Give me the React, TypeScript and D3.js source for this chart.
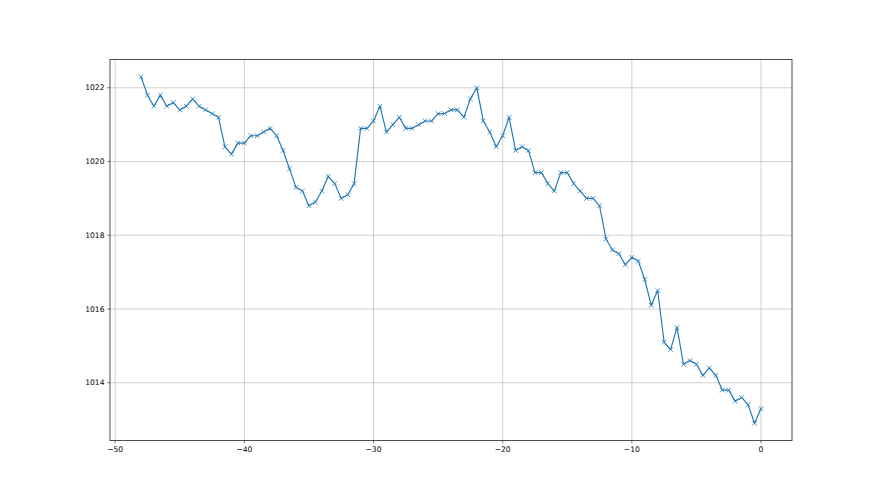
import React from "react";
import * as d3 from "d3";

const hours: number[] = [
  -48, -47.5, -47, -46.5, -46, -45.5, -45, -44.5, -44, -43.5, -43, -42.5, -42, -41.5, -41, -40.5,
  -40, -39.5, -39, -38.5, -38, -37.5, -37, -36.5, -36, -35.5, -35, -34.5, -34, -33.5, -33, -32.5,
  -32, -31.5, -31, -30.5, -30, -29.5, -29, -28.5, -28, -27.5, -27, -26.5, -26, -25.5, -25, -24.5,
  -24, -23.5, -23, -22.5, -22, -21.5, -21, -20.5, -20, -19.5, -19, -18.5, -18, -17.5, -17, -16.5,
  -16, -15.5, -15, -14.5, -14, -13.5, -13, -12.5, -12, -11.5, -11, -10.5, -10, -9.5, -9, -8.5,
  -8, -7.5, -7, -6.5, -6, -5.5, -5, -4.5, -4, -3.5, -3, -2.5, -2, -1.5, -1, -0.5, 0,
];

const pressure: number[] = [
  1022.3, 1021.8, 1021.5, 1021.8, 1021.5, 1021.6, 1021.4, 1021.5, 1021.7, 1021.5, 1021.4, 1021.3,
  1021.2, 1020.4, 1020.2, 1020.5, 1020.5, 1020.7, 1020.7, 1020.8, 1020.9, 1020.7, 1020.3, 1019.8,
  1019.3, 1019.2, 1018.8, 1018.9, 1019.2, 1019.6, 1019.4, 1019.0, 1019.1, 1019.4, 1020.9, 1020.9,
  1021.1, 1021.5, 1020.8, 1021.0, 1021.2, 1020.9, 1020.9, 1021.0, 1021.1, 1021.1, 1021.3, 1021.3,
  1021.4, 1021.4, 1021.2, 1021.7, 1022.0, 1021.1, 1020.8, 1020.4, 1020.7, 1021.2, 1020.3, 1020.4,
  1020.3, 1019.7, 1019.7, 1019.4, 1019.2, 1019.7, 1019.7, 1019.4, 1019.2, 1019.0, 1019.0, 1018.8,
  1017.9, 1017.6, 1017.5, 1017.2, 1017.4, 1017.3, 1016.8, 1016.1, 1016.5, 1015.1, 1014.9, 1015.5,
  1014.5, 1014.6, 1014.5, 1014.2, 1014.4, 1014.2, 1013.8, 1013.8, 1013.5, 1013.6, 1013.4, 1012.9,
  1013.3,
];

const xTicks: number[] = [-50, -40, -30, -20, -10, 0];
const yTicks: number[] = [1014, 1016, 1018, 1020, 1022];

const W = 880;
const H = 495;
const left = 110;
const right = 792;
const top = 59.4;
const bottom = 440.6;
const color = "#1f77b4";
const fontFamily = "'DejaVu Sans', sans-serif";
const fontSize = 7.6;

export default function App() {
  const xMin = d3.min(hours)!;
  const xMax = d3.max(hours)!;
  const yMin = d3.min(pressure)!;
  const yMax = d3.max(pressure)!;
  const xPad = (xMax - xMin) * 0.05;
  const yPad = (yMax - yMin) * 0.05;
  const x = d3.scaleLinear().domain([xMin - xPad, xMax + xPad]).range([left, right]);
  const y = d3.scaleLinear().domain([yMin - yPad, yMax + yPad]).range([bottom, top]);
  const pts = hours.map((h, i) => [h, pressure[i]] as [number, number]);
  const line = d3
    .line<[number, number]>()
    .x((d) => x(d[0]))
    .y((d) => y(d[1]));
  const r = 2.3;
  const fmt = (v: number) => String(v).replace("-", "\u2212");

  return (
    <svg
      width={W}
      height={H}
      style={{ position: "absolute", left: 0, top: 0, background: "#fff" }}
      fontFamily={fontFamily}
    >
      <rect x={0} y={0} width={W} height={H} fill="#fff" />
      {xTicks.map((t) => (
        <line key={"gx" + t} x1={x(t)} x2={x(t)} y1={top} y2={bottom} stroke="#b0b0b0" strokeWidth={0.6} />
      ))}
      {yTicks.map((t) => (
        <line key={"gy" + t} x1={left} x2={right} y1={y(t)} y2={y(t)} stroke="#b0b0b0" strokeWidth={0.6} />
      ))}
      <path d={line(pts) || ""} fill="none" stroke={color} strokeWidth={1.15} strokeLinejoin="round" />
      {pts.map((d, i) => {
        const cx = x(d[0]);
        const cy = y(d[1]);
        return (
          <path
            key={"m" + i}
            d={`M${cx - r},${cy - r}L${cx + r},${cy + r}M${cx - r},${cy + r}L${cx + r},${cy - r}`}
            stroke={color}
            strokeWidth={0.8}
            fill="none"
          />
        );
      })}
      <rect x={left} y={top} width={right - left} height={bottom - top} fill="none" stroke="#222" strokeWidth={0.8} />
      {xTicks.map((t) => (
        <g key={"xt" + t}>
          <line x1={x(t)} x2={x(t)} y1={bottom} y2={bottom + 2.7} stroke="#222" strokeWidth={0.6} />
          <text x={x(t)} y={bottom + 5.5} dy="0.76em" textAnchor="middle" fontSize={fontSize} fill="#000">
            {fmt(t)}
          </text>
        </g>
      ))}
      {yTicks.map((t) => (
        <g key={"yt" + t}>
          <line x1={left - 2.7} x2={left} y1={y(t)} y2={y(t)} stroke="#222" strokeWidth={0.6} />
          <text x={left - 5.5} y={y(t)} dy="0.35em" textAnchor="end" fontSize={fontSize} fill="#000">
            {t}
          </text>
        </g>
      ))}
    </svg>
  );
}
